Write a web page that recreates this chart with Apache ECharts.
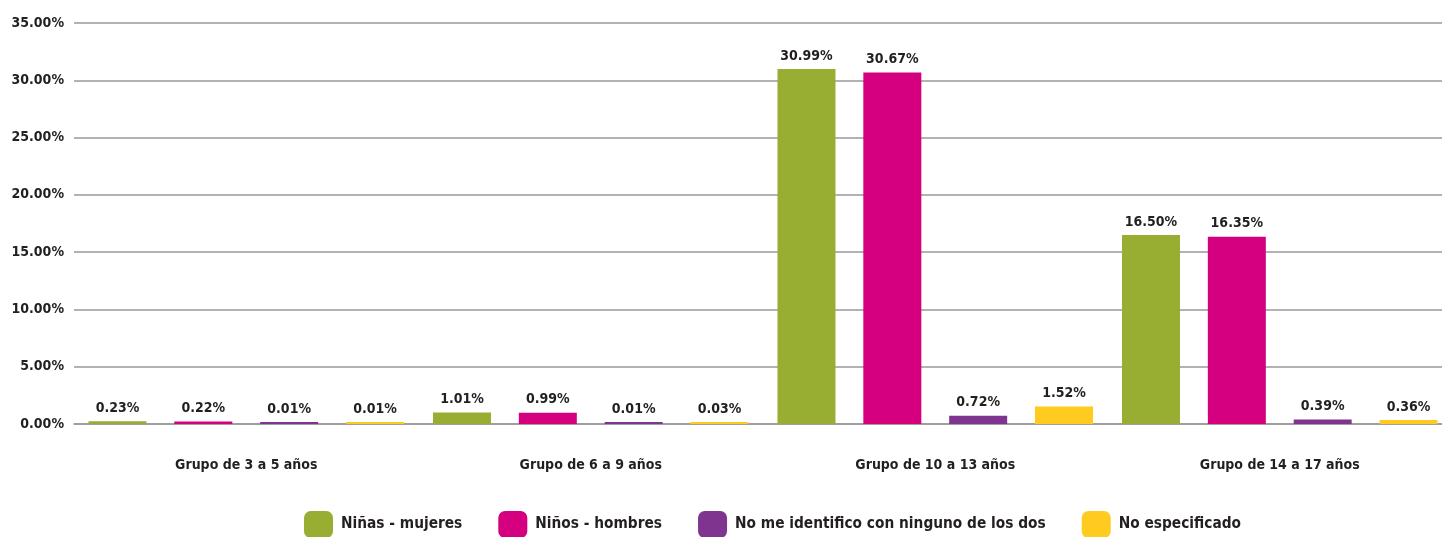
<!DOCTYPE html>
<html><head><meta charset="utf-8">
<script src="https://cdn.jsdelivr.net/npm/echarts@6/dist/echarts.min.js"></script>
<style>html,body{margin:0;padding:0;background:#fff;overflow:hidden;width:1442px;height:537px}#c{width:1452px;height:537px}</style>
</head><body><div id="c"></div>
<script>
const categories = ['Grupo de 3 a 5 años','Grupo de 6 a 9 años','Grupo de 10 a 13 años','Grupo de 14 a 17 años'];
const seriesNames = ['Niñas - mujeres','Niños - hombres','No me identifico con ninguno de los dos','No especificado'];
const ninas = [0.23, 1.01, 30.99, 16.50];
const ninos = [0.22, 0.99, 30.67, 16.35];
const ninguno = [0.01, 0.01, 0.72, 0.39];
const noEsp = [0.01, 0.03, 1.52, 0.36];
const colors = ['#97AE33','#D5007F','#7F3590','#FFCB1F'];
const FONT = '"DejaVu Sans Condensed","DejaVu Sans",sans-serif';
const values = [ninas, ninos, ninguno, noEsp];
const chart = echarts.init(document.getElementById('c'));
chart.setOption({
  animation:false,
  color: colors,
  textStyle:{fontFamily:FONT},
  grid:{left:74,right:0,top:23,bottom:113},
  legend:{top:511,left:304,padding:0,itemWidth:29,itemHeight:27,itemGap:36,icon:'roundRect',
    textStyle:{fontFamily:FONT,fontWeight:'bold',fontSize:15.3,color:'#231f20',padding:[0,0,0,3]},data:seriesNames},
  xAxis:{type:'category',data:categories,axisTick:{show:false},
    axisLine:{lineStyle:{color:'#999',width:1.5}},
    axisLabel:{margin:34,fontFamily:FONT,fontWeight:'bold',fontSize:14,color:'#231f20'}},
  yAxis:{type:'value',min:0,max:35,interval:5,
    axisLabel:{formatter:v=>v.toFixed(2)+'%',fontFamily:FONT,fontWeight:'bold',fontSize:14,color:'#231f20',margin:10},
    splitLine:{lineStyle:{color:'#999',width:1.5}}},
  series: seriesNames.map((n,i)=>({
    name:n,type:'bar',data:values[i],barWidth:58,barGap:'48%',barMinHeight:2,
    itemStyle:{color:colors[i]},
    label:{show:true,position:'top',distance:6,formatter:p=>p.value.toFixed(2)+'%',
      fontFamily:FONT,fontWeight:'bold',fontSize:14,color:'#231f20'}
  }))
});
</script></body></html>
